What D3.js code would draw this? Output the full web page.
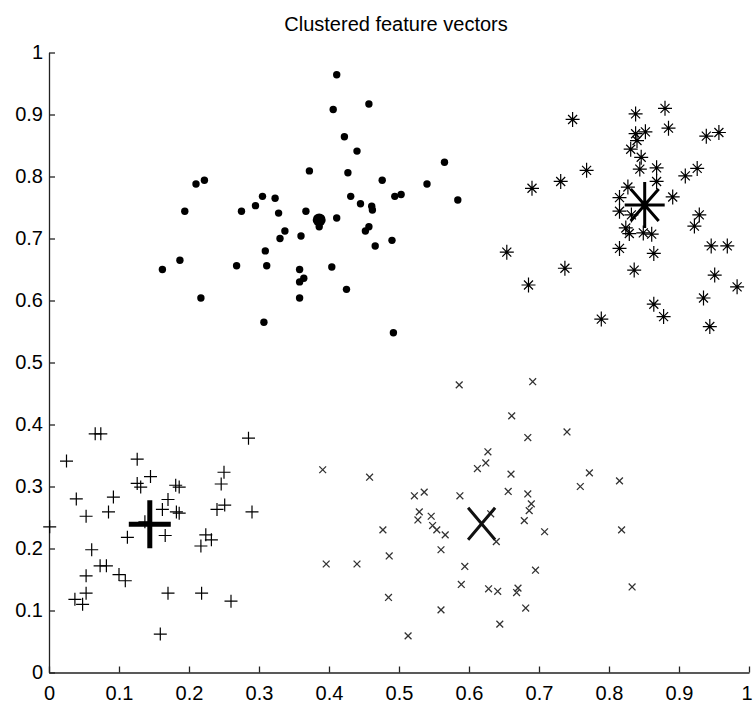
<!DOCTYPE html>
<html>
<head>
<meta charset="utf-8">
<script src="https://cdn.jsdelivr.net/npm/d3@7"></script>
<style>
  html, body { margin: 0; padding: 0; background: #fff; }
  svg { display: block; }
  text { font-family: "Liberation Sans", Arial, Helvetica, sans-serif; fill: #000; }
</style>
</head>
<body>
<svg id="chart" width="753" height="703"></svg>
<script>
const title = "Clustered feature vectors";
const xTicks = [0, 0.1, 0.2, 0.3, 0.4, 0.5, 0.6, 0.7, 0.8, 0.9, 1];
const yTicks = [0, 0.1, 0.2, 0.3, 0.4, 0.5, 0.6, 0.7, 0.8, 0.9, 1];
const xTickLabels = ["0", "0.1", "0.2", "0.3", "0.4", "0.5", "0.6", "0.7", "0.8", "0.9", "1"];
const yTickLabels = ["0", "0.1", "0.2", "0.3", "0.4", "0.5", "0.6", "0.7", "0.8", "0.9", "1"];

// Cluster 1: filled dots (top middle)
const dotPoints = [
  [0.411,0.964],[0.406,0.908],[0.457,0.917],[0.422,0.864],[0.440,0.841],[0.372,0.809],
  [0.427,0.806],[0.565,0.823],[0.476,0.794],[0.540,0.788],[0.210,0.788],[0.222,0.794],
  [0.584,0.762],[0.494,0.768],[0.503,0.771],[0.431,0.768],[0.445,0.756],[0.461,0.752],
  [0.462,0.746],[0.305,0.768],[0.323,0.765],[0.295,0.753],[0.194,0.744],[0.275,0.744],
  [0.328,0.741],[0.367,0.744],[0.411,0.733],[0.386,0.719],[0.457,0.719],[0.452,0.712],
  [0.337,0.712],[0.330,0.700],[0.360,0.704],[0.490,0.697],[0.466,0.688],[0.309,0.680],
  [0.187,0.665],[0.162,0.650],[0.268,0.656],[0.311,0.656],[0.358,0.650],[0.404,0.654],
  [0.364,0.636],[0.358,0.630],[0.425,0.618],[0.217,0.604],[0.358,0.604],[0.307,0.565],
  [0.492,0.548]
];
// Cluster 2: asterisks (top right)
const starPoints = [
  [0.748,0.892],[0.838,0.901],[0.880,0.910],[0.885,0.878],[0.852,0.872],[0.838,0.869],
  [0.840,0.858],[0.831,0.844],[0.846,0.831],[0.939,0.865],[0.957,0.871],[0.844,0.812],
  [0.868,0.814],[0.768,0.810],[0.731,0.792],[0.690,0.781],[0.909,0.801],[0.926,0.813],
  [0.868,0.792],[0.827,0.783],[0.815,0.766],[0.891,0.767],[0.815,0.744],[0.832,0.738],
  [0.929,0.738],[0.922,0.720],[0.824,0.717],[0.829,0.708],[0.849,0.709],[0.861,0.707],
  [0.815,0.684],[0.864,0.676],[0.946,0.688],[0.969,0.688],[0.654,0.678],[0.737,0.652],
  [0.836,0.649],[0.685,0.625],[0.951,0.641],[0.983,0.622],[0.935,0.604],[0.864,0.594],
  [0.878,0.574],[0.789,0.570],[0.944,0.558]
];
// Cluster 3: plus signs (bottom left)
const plusPoints = [
  [0.066,0.385],[0.074,0.385],[0.025,0.341],[0.126,0.344],[0.145,0.316],[0.126,0.305],
  [0.131,0.299],[0.181,0.302],[0.186,0.299],[0.285,0.378],[0.250,0.323],[0.246,0.304],
  [0.039,0.280],[0.092,0.283],[0.053,0.252],[0.085,0.259],[0.170,0.279],[0.162,0.263],
  [0.182,0.259],[0.186,0.257],[0.240,0.263],[0.251,0.270],[0.290,0.259],[0.001,0.235],
  [0.137,0.243],[0.112,0.218],[0.166,0.221],[0.224,0.222],[0.232,0.214],[0.217,0.204],
  [0.061,0.198],[0.073,0.172],[0.082,0.172],[0.053,0.156],[0.100,0.158],[0.109,0.148],
  [0.053,0.128],[0.037,0.118],[0.048,0.110],[0.170,0.128],[0.218,0.128],[0.260,0.115],
  [0.159,0.062]
];
// Cluster 4: crosses (bottom right)
const crossPoints = [
  [0.586,0.464],[0.691,0.469],[0.661,0.414],[0.684,0.379],[0.740,0.388],[0.627,0.356],
  [0.624,0.338],[0.612,0.329],[0.391,0.327],[0.458,0.315],[0.660,0.320],[0.772,0.322],
  [0.759,0.300],[0.815,0.309],[0.522,0.285],[0.536,0.291],[0.587,0.285],[0.656,0.292],
  [0.684,0.288],[0.689,0.272],[0.686,0.261],[0.679,0.245],[0.529,0.259],[0.527,0.246],
  [0.546,0.252],[0.548,0.237],[0.554,0.230],[0.566,0.222],[0.631,0.256],[0.639,0.211],
  [0.708,0.227],[0.818,0.230],[0.477,0.230],[0.560,0.198],[0.486,0.188],[0.396,0.175],
  [0.440,0.175],[0.594,0.171],[0.695,0.165],[0.589,0.142],[0.628,0.135],[0.641,0.131],
  [0.670,0.136],[0.668,0.129],[0.833,0.138],[0.485,0.121],[0.560,0.101],[0.681,0.104],
  [0.644,0.078],[0.513,0.059]
];
// Cluster centroids
const dotCentroid = [[0.386, 0.730]];
const starCentroid = [[0.851, 0.754]];
const plusCentroid = [[0.144, 0.239]];
const crossCentroid = [[0.618, 0.240]];

const svg = d3.select("#chart");
const margin = { left: 49, right: 4, top: 52.5, bottom: 30.5 };
const W = 753, H = 703;
const x = d3.scaleLinear().domain([0, 1]).range([margin.left, W - margin.right]);
const y = d3.scaleLinear().domain([0, 1]).range([H - margin.bottom, margin.top]);

// Title
svg.append("text")
  .attr("x", (x(0) + x(1)) / 2 - 3)
  .attr("y", 31)
  .attr("text-anchor", "middle")
  .style("font-size", "20px")
  .text(title);

// Axes
const xAxis = d3.axisBottom(x)
  .tickValues(xTicks)
  .tickFormat((d, i) => xTickLabels[i])
  .tickSizeInner(-6).tickSizeOuter(0).tickPadding(13);
const yAxis = d3.axisLeft(y)
  .tickValues(yTicks)
  .tickFormat((d, i) => yTickLabels[i])
  .tickSizeInner(-6).tickSizeOuter(0).tickPadding(6);

const gx = svg.append("g").attr("transform", `translate(0,${y(0)})`).call(xAxis);
const gy = svg.append("g").attr("transform", `translate(${x(0)},0)`).call(yAxis);
[gx, gy].forEach(g => {
  g.select(".domain").attr("stroke", "#222").attr("stroke-width", 1.3);
  g.selectAll(".tick line").attr("stroke", "#222").attr("stroke-width", 1.3);
  g.selectAll(".tick text")
    .style("font-size", "20px")
    .style("font-family", "'Liberation Sans', Arial, sans-serif")
    .attr("fill", "#000");
});
// keep the last x label inside the page edge
gx.selectAll(".tick text").filter((d, i) => i === xTicks.length - 1).attr("dx", "-2.5");

const plot = svg.append("g");
const tr = d => `translate(${x(d[0])},${y(d[1])})`;

// Dots
plot.selectAll("circle.dot").data(dotPoints).join("circle")
  .attr("class", "dot")
  .attr("cx", d => x(d[0])).attr("cy", d => y(d[1]))
  .attr("r", 3.7).attr("fill", "#000");

// Asterisks
const starPath = "M-7,0H7M0,-7.5V7.5M-4.5,-4.5L4.5,4.5M-4.5,4.5L4.5,-4.5";
plot.selectAll("path.star").data(starPoints).join("path")
  .attr("class", "star").attr("transform", tr).attr("d", starPath)
  .attr("fill", "none").attr("stroke", "#000").attr("stroke-width", 1.2);

// Plus signs
const plusPath = "M-6.5,0H6.5M0,-6.5V6.5";
plot.selectAll("path.plus").data(plusPoints).join("path")
  .attr("class", "plus").attr("transform", tr).attr("d", plusPath)
  .attr("fill", "none").attr("stroke", "#000").attr("stroke-width", 1.2);

// Crosses
const crossPath = "M-3.4,-3.4L3.4,3.4M-3.4,3.4L3.4,-3.4";
plot.selectAll("path.cross").data(crossPoints).join("path")
  .attr("class", "cross").attr("transform", tr).attr("d", crossPath)
  .attr("fill", "none").attr("stroke", "#333").attr("stroke-width", 1.3);

// Centroids
plot.selectAll("circle.dotc").data(dotCentroid).join("circle")
  .attr("class", "dotc")
  .attr("cx", d => x(d[0])).attr("cy", d => y(d[1]))
  .attr("r", 6.5).attr("fill", "#000");

plot.selectAll("path.starc").data(starCentroid).join("path")
  .attr("class", "starc").attr("transform", tr)
  .attr("d", "M-20,0H20M0,-23V23M-14,-16L14,16M-14,16L14,-16")
  .attr("fill", "none").attr("stroke", "#000").attr("stroke-width", 3);

plot.selectAll("path.plusc").data(plusCentroid).join("path")
  .attr("class", "plusc").attr("transform", tr)
  .attr("d", "M-21,0H21M0,-24V24")
  .attr("fill", "none").attr("stroke", "#000").attr("stroke-width", 5);

plot.selectAll("path.crossc").data(crossCentroid).join("path")
  .attr("class", "crossc").attr("transform", tr)
  .attr("d", "M-13.5,-16L13.5,16M-13.5,16L13.5,-16")
  .attr("fill", "none").attr("stroke", "#111").attr("stroke-width", 3);
</script>
</body>
</html>
